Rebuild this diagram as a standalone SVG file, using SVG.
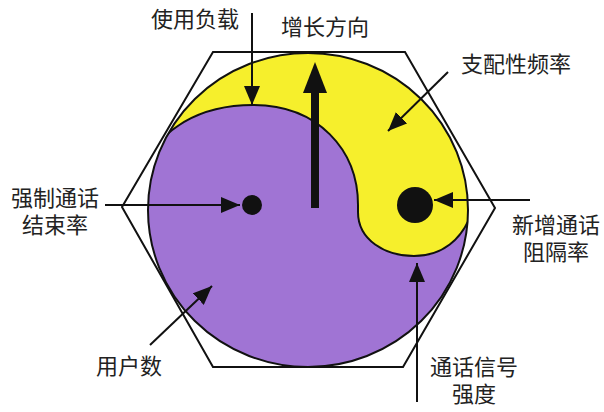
<svg xmlns="http://www.w3.org/2000/svg" width="604" height="412" viewBox="0 0 604 412">
<style>
.lbl{font-family:"Noto Sans CJK SC","Noto Sans",sans-serif;font-size:22px;fill:#222}
.ln{stroke:#111;stroke-width:2;fill:none}
.con{stroke:#111;stroke-width:2;fill:none;marker-end:url(#ah)}
</style>
<defs>
<marker id="ah" markerUnits="userSpaceOnUse" markerWidth="20" markerHeight="16" refX="19" refY="8" orient="auto">
<path d="M0,0 L19,8 L0,16 Z" fill="#111"/>
</marker>
<clipPath id="disc"><ellipse cx="308" cy="210" rx="160" ry="157"/></clipPath>
</defs>
<rect width="604" height="412" fill="#fff"/>
<g id="hexagon">
<polygon class="ln" points="213,52 405,52 495,208 403,367 213,367 122,207"/>
</g>
<g id="yinyang">
<ellipse cx="308" cy="210" rx="160" ry="157" fill="#a074d4"/>
<g clip-path="url(#disc)">
<path d="M140,180 C155,125 205,105 253,105 C318,105 358,150 358,205 L358,212 C358,240 385,256 414,256 C442,256 462,240 472,212 L480,212 L480,40 L140,40 Z" fill="#f6ef2c"/>
<path d="M140,180 C155,125 205,105 253,105 C318,105 358,150 358,205 L358,212 C358,240 385,256 414,256 C442,256 462,240 472,212" class="ln"/>
</g>
<ellipse cx="308" cy="210" rx="160" ry="157" class="ln"/>
<circle id="dot-small" cx="252" cy="205" r="10" fill="#111"/>
<circle id="dot-large" cx="415" cy="205" r="18" fill="#111"/>
</g>
<g id="growth">
<line x1="315" y1="208" x2="315" y2="88" stroke="#111" stroke-width="8"/>
<polygon points="315,62 303,93 327,93" fill="#111"/>
</g>
<g id="connectors">
<line class="con" x1="252" y1="13" x2="252" y2="105"/>
<line class="con" x1="448" y1="72" x2="388" y2="131"/>
<line class="con" x1="105" y1="205" x2="240" y2="205"/>
<line class="con" x1="530" y1="200" x2="434" y2="200"/>
<line class="con" x1="150" y1="345" x2="212" y2="286"/>
<line class="con" x1="417" y1="402" x2="417" y2="263"/>
</g>
<g id="label-load"><text class="lbl" x="151" y="27">使用负载</text></g>
<g id="label-growth"><text class="lbl" x="281" y="35">增长方向</text></g>
<g id="label-freq"><text class="lbl" x="461" y="72">支配性频率</text></g>
<g id="label-drop"><text class="lbl" x="55" y="206" text-anchor="middle">强制通话</text><text class="lbl" x="55" y="233" text-anchor="middle">结束率</text></g>
<g id="label-block"><text class="lbl" x="556" y="233" text-anchor="middle">新增通话</text><text class="lbl" x="556" y="260" text-anchor="middle">阻隔率</text></g>
<g id="label-users"><text class="lbl" x="96" y="374">用户数</text></g>
<g id="label-signal"><text class="lbl" x="474" y="375" text-anchor="middle">通话信号</text><text class="lbl" x="474" y="402" text-anchor="middle">强度</text></g>
</svg>
